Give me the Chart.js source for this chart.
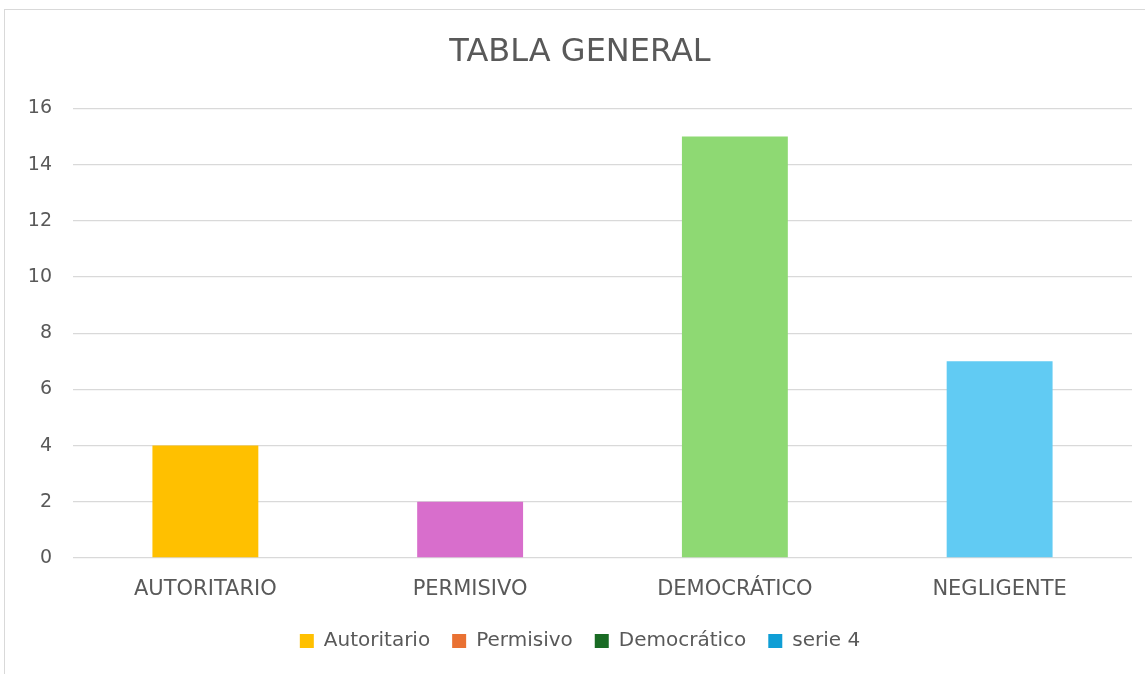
<!DOCTYPE html>
<html>
<head>
<meta charset="utf-8">
<script src="https://cdn.jsdelivr.net/npm/chart.js@4"></script>
<style>
  html, body { margin: 0; padding: 0; background: #fff; overflow: hidden; }
  #wrap { position: relative; width: 1145px; height: 674px; }
  #frame { position: absolute; left: 4px; top: 9px; width: 1160px; height: 700px; border: 1px solid #d9d9d9; box-sizing: border-box; }
  #box { position: absolute; left: 0; top: 0; width: 1145px; height: 674px; }
</style>
</head>
<body>
<div id="wrap">
  <div id="frame"></div>
  <div id="box"><canvas id="chart"></canvas></div>
</div>
<script>
const categories = ['AUTORITARIO', 'PERMISIVO', 'DEMOCRÁTICO', 'NEGLIGENTE'];
const values = [4, 2, 15, 7];
const barColors = ['#FFC000', '#D86ECC', '#8ED973', '#61CBF3'];
const seriesNames = ['Autoritario', 'Permisivo', 'Democrático', 'serie 4'];
const seriesColors = ['#FFC000', '#E97132', '#196B24', '#0F9ED5'];

const fontFamily = '"DejaVu Sans", sans-serif';
const textColor = '#595959';

document.addEventListener('DOMContentLoaded', () => {
    const ctx = document.getElementById('chart').getContext('2d');
    new Chart(ctx, {
        type: 'bar',
        data: {
            labels: categories,
            datasets: [{
                label: 'TABLA GENERAL',
                data: values,
                backgroundColor: barColors,
                borderWidth: 0,
                categoryPercentage: 1,
                barPercentage: 0.4
            }]
        },
        options: {
            responsive: true,
            maintainAspectRatio: false,
            animation: false,
            layout: {
                padding: { left: 28, right: 13, top: 0, bottom: 13 }
            },
            plugins: {
                title: {
                    display: true,
                    text: 'TABLA GENERAL',
                    color: textColor,
                    font: { family: fontFamily, size: 32, weight: 'normal' },
                    padding: { top: 33, bottom: 37 }
                },
                legend: {
                    position: 'bottom',
                    labels: {
                        color: textColor,
                        font: { family: fontFamily, size: 20 },
                        boxWidth: 14,
                        boxHeight: 14,
                        padding: 22,
                        generateLabels: () => seriesNames.map((name, i) => ({
                            text: name,
                            fillStyle: seriesColors[i],
                            strokeStyle: seriesColors[i],
                            lineWidth: 0,
                            fontColor: textColor,
                            hidden: false,
                            index: i
                        }))
                    },
                    onClick: () => {}
                },
                tooltip: { enabled: false }
            },
            scales: {
                x: {
                    grid: { display: false, drawTicks: false },
                    border: { display: false },
                    ticks: {
                        color: textColor,
                        font: { family: fontFamily, size: 21 },
                        padding: 19
                    },
                    afterFit: (scale) => { scale.height = 51; }
                },
                y: {
                    min: 0,
                    max: 16,
                    grid: { color: '#d9d9d9', lineWidth: 1.3, drawTicks: false },
                    border: { display: false },
                    ticks: {
                        stepSize: 2,
                        color: textColor,
                        font: { family: fontFamily, size: 19 },
                        padding: 21
                    },
                    afterFit: (scale) => { scale.width = 45; }
                }
            }
        }
    });
});
</script>
</body>
</html>
